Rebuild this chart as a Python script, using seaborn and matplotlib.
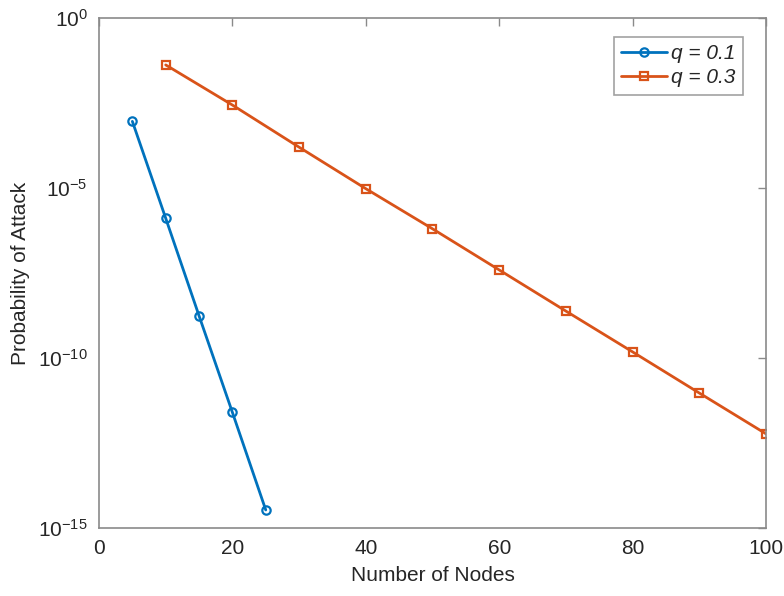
import numpy as np
import pandas as pd
import matplotlib
matplotlib.use("Agg")
import matplotlib.pyplot as plt
import seaborn as sns

# data (log10 values)
nodes_q1 = [5, 10, 15, 20, 25]
log_p_q1 = [-3.04, -5.89, -8.76, -11.6, -14.47]
nodes_q3 = [10, 20, 30, 40, 50, 60, 70, 80, 90, 100]
log_p_q3 = [-1.38, -2.56, -3.8, -5.02, -6.2, -7.41, -8.62, -9.82, -11.03, -12.23]
labels = ["q = 0.1", "q = 0.3"]
colors = ["#0072BD", "#D95319"]

df = pd.concat([
    pd.DataFrame({"n": nodes_q1, "p": 10.0 ** np.array(log_p_q1), "q": labels[0]}),
    pd.DataFrame({"n": nodes_q3, "p": 10.0 ** np.array(log_p_q3), "q": labels[1]}),
])

sns.set_style("white")
plt.rcParams["font.family"] = ["Liberation Sans", "DejaVu Sans"]

fig = plt.figure(figsize=(7.84, 5.96), dpi=100)
ax = fig.add_axes([0.1263, 0.1141, 0.8507, 0.8557])

sns.lineplot(data=df, x="n", y="p", hue="q", style="q",
             palette=dict(zip(labels, colors)),
             markers={labels[0]: "o", labels[1]: "s"}, dashes=False,
             linewidth=2, markersize=6, ax=ax)

for ln in ax.get_lines():
    c = ln.get_color()
    ln.set_markerfacecolor("none")
    ln.set_markeredgecolor(c)
    ln.set_markeredgewidth(1.6)

ax.set_yscale("log")
ax.set_xlim(0, 100)
ax.set_ylim(1e-15, 1e0)
ax.set_xticks([0, 20, 40, 60, 80, 100])
ax.set_yticks([1e0, 1e-5, 1e-10, 1e-15])
ax.yaxis.set_minor_locator(matplotlib.ticker.NullLocator())
ax.set_yticklabels([r"$\mathregular{10^{0}}$", r"$\mathregular{10^{-5}}$",
                    r"$\mathregular{10^{-10}}$", r"$\mathregular{10^{-15}}$"])

ax.tick_params(axis="both", which="both", direction="in", length=6, width=1,
               top=True, right=True, colors="#8a8a8a", labelcolor="#262626",
               labelsize=15, pad=8)
for s in ax.spines.values():
    s.set_color("#8a8a8a")
    s.set_linewidth(1.2)

ax.set_xlabel("Number of Nodes", fontsize=15, color="#262626", labelpad=6)
ax.set_ylabel("Probability of Attack", fontsize=15, color="#262626", labelpad=6)

leg = ax.legend(loc="upper right", bbox_to_anchor=(0.975, 0.975), fontsize=15,
                frameon=True, fancybox=False, edgecolor="#8a8a8a",
                handlelength=2.2, handletextpad=0.2, borderpad=0.35,
                labelspacing=0.25, borderaxespad=0.3)
leg.get_frame().set_linewidth(1.2)
for t in leg.get_texts():
    t.set_fontstyle("italic")
    t.set_color("#262626")
for h in leg.legend_handles:
    c = h.get_color()
    h.set_markerfacecolor("none")
    h.set_markeredgecolor(c)
    h.set_markeredgewidth(1.6)

fig.savefig("out.png", dpi=100)
